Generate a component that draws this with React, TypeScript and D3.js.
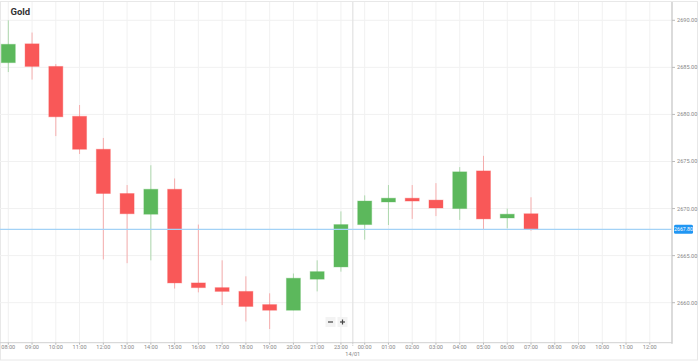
import React from "react";
import * as d3 from "d3";

const hours = ["08:00","09:00","10:00","11:00","12:00","13:00","14:00","15:00","16:00","17:00","18:00","19:00","20:00","21:00","23:00","00:00","01:00","02:00","03:00","04:00","05:00","06:00","07:00","08:00","09:00","10:00","11:00","12:00"];
const opens = [2685.5,2687.5,2685.1,2679.8,2676.3,2671.6,2669.4,2672.05,2662.1,2661.6,2661.2,2659.8,2659.2,2662.5,2663.8,2668.3,2670.7,2671.1,2670.9,2670.0,2674.0,2669.0,2669.45];
const highs = [2690.0,2688.7,2685.35,2681.0,2677.5,2672.5,2674.6,2673.2,2668.3,2664.5,2662.8,2661.0,2663.1,2664.5,2669.7,2671.4,2672.5,2672.5,2672.7,2674.4,2675.6,2670.0,2671.2];
const lows = [2684.5,2683.7,2677.7,2675.8,2664.6,2664.2,2664.5,2661.5,2661.1,2659.75,2658.0,2657.2,2659.2,2661.2,2663.3,2666.7,2668.25,2668.9,2669.2,2668.8,2667.8,2667.9,2667.65];
const closes = [2687.45,2685.1,2679.75,2676.3,2671.6,2669.45,2672.05,2662.1,2661.6,2661.2,2659.6,2659.2,2662.6,2663.3,2668.3,2670.8,2671.1,2670.8,2670.06,2673.9,2668.9,2669.4,2667.8];
const priceTicks = [2660, 2665, 2670, 2675, 2680, 2685, 2690];
const currentPrice = 2667.8;
const dateLabel = "14/01";
const title = "Gold";

const UP = "#5cb85c";
const DOWN = "#f95858";
const FONT = "Roboto, 'Noto Sans', sans-serif";

export default function App() {
  const W = 699, H = 361;
  const plotRight = 672;
  const axisY = 342.7;
  const x = d3.scaleLinear().domain([0, 27]).range([8.3, 649.8]);
  const y = d3.scaleLinear().domain([2660, 2690]).range([302.7, 20.3]);
  const bw = 14;
  const sepX = (x(14) + x(15)) / 2;

  return (
    <div style={{ position: "fixed", left: 0, top: 0 }}>
      <svg width={W} height={H} style={{ display: "block", background: "#fff" }} fontFamily={FONT}>
        <rect x={0.5} y={1.5} width={697} height={358.5} fill="none" stroke="#e8e8e8" />
        {priceTicks.map((p) => (
          <line key={"h" + p} x1={0} x2={plotRight} y1={y(p)} y2={y(p)} stroke="#f1f1f1" />
        ))}
        {hours.map((h, i) => (
          <line key={"v" + i} x1={x(i)} x2={x(i)} y1={2} y2={axisY} stroke="#f1f1f1" />
        ))}
        <line x1={sepX} x2={sepX} y1={2} y2={axisY} stroke="#e2e2e2" strokeWidth={1.2} />
        {opens.map((o, i) => {
          const c = closes[i];
          const up = c >= o;
          const col = up ? UP : DOWN;
          const top = y(Math.max(o, c));
          const bot = y(Math.min(o, c));
          return (
            <g key={"c" + i}>
              <line x1={x(i)} x2={x(i)} y1={y(highs[i])} y2={y(lows[i])} stroke={col} strokeOpacity={0.45} strokeWidth={1} />
              <rect x={x(i) - bw / 2} y={top} width={bw} height={Math.max(bot - top, 1.5)} fill={col} stroke={col} strokeOpacity={0.35} strokeWidth={1} />
            </g>
          );
        })}
        <line x1={0} x2={plotRight} y1={y(currentPrice)} y2={y(currentPrice)} stroke="#a3d2f6" strokeWidth={1.3} />
        <line x1={plotRight} x2={plotRight} y1={2} y2={axisY + 1} stroke="#cfcfcf" strokeWidth={1.5} />
        <line x1={0} x2={plotRight} y1={axisY} y2={axisY} stroke="#d0d0d0" strokeWidth={1} />
        {priceTicks.map((p) => (
          <g key={"yt" + p}>
            <line x1={plotRight} x2={plotRight + 3} y1={y(p)} y2={y(p)} stroke="#bbb" />
            <text x={plotRight + 5} y={y(p)} dy="0.35em" fontSize={5.6} fill="#888">{p.toFixed(2)}</text>
          </g>
        ))}
        {hours.map((h, i) => (
          <g key={"xt" + i}>
            <line x1={x(i)} x2={x(i)} y1={axisY} y2={axisY + 2} stroke="#bbb" />
            <text x={x(i)} y={axisY + 6} textAnchor="middle" fontSize={5.6} fill="#888">{h}</text>
          </g>
        ))}
        <line x1={sepX} x2={sepX} y1={axisY} y2={axisY + 4} stroke="#bbb" strokeDasharray="1,1" />
        <text x={sepX} y={axisY + 13.5} textAnchor="middle" fontSize={5.6} fill="#888">{dateLabel}</text>
        <rect x={plotRight + 2} y={y(currentPrice) - 4.5} width={19} height={9} rx={1.5} fill="#2196f3" />
        <text x={plotRight + 11.5} y={y(currentPrice)} dy="0.35em" textAnchor="middle" fontSize={5.2} fill="#fff">{currentPrice.toFixed(2)}</text>
        <text x={10.5} y={15} fontSize={9.5} fontWeight="bold" fill="#333">{title}</text>
        <rect x={325.5} y={317} width={10} height={10} fill="#f3f3f3" />
        <rect x={337.5} y={317} width={10} height={10} fill="#f3f3f3" />
        <line x1={328} x2={333} y1={322} y2={322} stroke="#444" strokeWidth={1.2} />
        <line x1={340} x2={345} y1={322} y2={322} stroke="#444" strokeWidth={1.2} />
        <line x1={342.5} x2={342.5} y1={319.5} y2={324.5} stroke="#444" strokeWidth={1.2} />
      </svg>
    </div>
  );
}
